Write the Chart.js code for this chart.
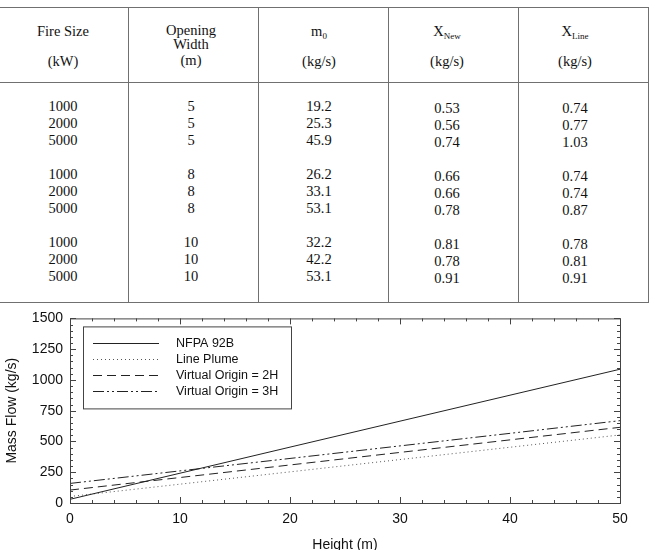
<!doctype html>
<html>
<head>
<script src="https://cdn.jsdelivr.net/npm/chart.js@4/dist/chart.umd.min.js"></script>
<style>
  body { margin: 0; width: 651px; height: 550px; overflow: hidden; background: #fff; position: relative;
         font-family: "Liberation Serif", "Times New Roman", serif; color: #111; }
  .hl { position: absolute; height: 0; border-top: 1px solid #707070; }
  .vl { position: absolute; width: 0; border-left: 1px solid #707070; }
  .cell { position: absolute; width: 130px; text-align: center; font-size: 14.5px; line-height: 16px; white-space: nowrap; }
  .col { position: absolute; width: 130px; text-align: center; font-size: 14.5px; line-height: 17px; }
  sub { font-size: 9px; vertical-align: baseline; position: relative; top: 3px; }
  #chartBox { position: absolute; left: 0; top: 303px; }
</style>
</head>
<body>
  <div id="table"></div>
  <div id="chartBox"><canvas id="canvas" width="651" height="260"></canvas></div>
  <script>
    // table data
    const fireSize = ['1000', '2000', '5000', '1000', '2000', '5000', '1000', '2000', '5000'];
    const openingWidth = ['5', '5', '5', '8', '8', '8', '10', '10', '10'];
    const m0 = ['19.2', '25.3', '45.9', '26.2', '33.1', '53.1', '32.2', '42.2', '53.1'];
    const xNew = ['0.53', '0.56', '0.74', '0.66', '0.66', '0.78', '0.81', '0.78', '0.91'];
    const xLine = ['0.74', '0.77', '1.03', '0.74', '0.74', '0.87', '0.78', '0.81', '0.91'];

    // chart data
    const heights = [0, 10, 20, 30, 40, 50];
    const nfpa92B = [30, 242, 454, 665, 876, 1087];
    const linePlume = [53, 153, 253, 353, 453, 553];
    const virtual2H = [105, 207, 309, 411, 513, 615];
    const virtual3H = [159, 261, 362, 464, 566, 669];

    const headers = [
      [['Fire Size', 31], ['(kW)', 61]],
      [['Opening', 30], ['Width', 44], ['(m)', 60]],
      [['m<sub>0</sub>', 31], ['(kg/s)', 61]],
      [['X<sub>New</sub>', 31], ['(kg/s)', 61]],
      [['X<sub>Line</sub>', 31], ['(kg/s)', 61]]
    ];
    const columns = [fireSize, openingWidth, m0, xNew, xLine];

    const table = document.getElementById('table');
    let html = '';
    html += '<div class="hl" style="left:0;top:7px;width:649px"></div>';
    html += '<div class="hl" style="left:0;top:82px;width:649px"></div>';
    html += '<div class="hl" style="left:0;top:302px;width:649px"></div>';
    [128, 258, 388, 518, 648].forEach((x) => {
      html += '<div class="vl" style="left:' + x + 'px;top:7px;height:295px"></div>';
    });
    columns.forEach((col, i) => {
      const left = 128 * i - 2;
      headers[i].forEach(([t, cy]) => {
        html += '<div class="cell" style="left:' + left + 'px;top:' + (cy - 8) + 'px">' + t + '</div>';
      });
      const lines = [];
      col.forEach((v, j) => {
        if (j > 0 && j % 3 === 0) lines.push('&nbsp;');
        lines.push(v);
      });
      const top = i >= 3 ? 99.5 : 97.5;
      html += '<div class="col" style="left:' + left + 'px;top:' + top + 'px">' + lines.join('<br>') + '</div>';
    });
    table.innerHTML = html;

    const ink = '#222';
    const pts = (ys) => heights.map((h, i) => ({ x: h, y: ys[i] }));

    const frame = {
      id: 'frame',
      afterDatasetsDraw(chart) {
        const { ctx, chartArea: a, scales: { x, y } } = chart;
        ctx.save();
        ctx.strokeStyle = '#444';
        ctx.lineWidth = 1;
        ctx.strokeRect(a.left + 0.5, a.top + 0.5, a.right - a.left, a.bottom - a.top);
        ctx.beginPath();
        for (let v = 0; v <= 50; v += 2) {
          const px = Math.round(x.getPixelForValue(v)) + 0.5;
          const len = v % 10 === 0 ? 6 : 3;
          ctx.moveTo(px, a.bottom); ctx.lineTo(px, a.bottom - len);
          ctx.moveTo(px, a.top); ctx.lineTo(px, a.top + len);
        }
        for (let v = 0; v <= 1500; v += 50) {
          const py = Math.round(y.getPixelForValue(v)) + 0.5;
          const len = v % 250 === 0 ? 6 : 3;
          ctx.moveTo(a.left, py); ctx.lineTo(a.left + len, py);
          ctx.moveTo(a.right, py); ctx.lineTo(a.right - len, py);
        }
        ctx.stroke();

        // legend inside the plot
        const bx = a.left + 13, by = a.top + 8;
        ctx.fillStyle = '#fff';
        ctx.fillRect(bx, by, 208, 82);
        ctx.strokeStyle = '#444';
        ctx.strokeRect(bx + 0.5, by + 0.5, 208, 82);
        ctx.font = '12.5px "Liberation Sans", Arial, sans-serif';
        ctx.textBaseline = 'middle';
        chart.data.datasets.forEach((ds, i) => {
          const ly = Math.round(by + 17 + i * 16) + 0.5;
          ctx.beginPath();
          ctx.setLineDash(ds.borderDash || []);
          ctx.strokeStyle = ds.borderColor;
          ctx.lineWidth = ds.borderWidth;
          ctx.moveTo(bx + 10, ly); ctx.lineTo(bx + 76, ly);
          ctx.stroke();
          ctx.setLineDash([]);
          ctx.fillStyle = '#111';
          ctx.fillText(ds.label, bx + 93, ly);
        });
        ctx.restore();
      }
    };

    const tickFont = { family: '"Liberation Sans", Arial, sans-serif', size: 14 };
    const plain = (v) => String(v);

    new Chart(document.getElementById('canvas').getContext('2d'), {
      type: 'line',
      data: {
        datasets: [
          { label: 'NFPA 92B', data: pts(nfpa92B), borderColor: ink, borderWidth: 1, borderDash: [] },
          { label: 'Line Plume', data: pts(linePlume), borderColor: '#555', borderWidth: 1, borderDash: [1, 3] },
          { label: 'Virtual Origin = 2H', data: pts(virtual2H), borderColor: ink, borderWidth: 1, borderDash: [9, 5] },
          { label: 'Virtual Origin = 3H', data: pts(virtual3H), borderColor: ink, borderWidth: 1, borderDash: [11, 3, 2, 3, 2, 3] }
        ]
      },
      options: {
        responsive: false,
        animation: false,
        elements: { point: { radius: 0 }, line: { tension: 0 } },
        layout: { padding: { top: 14, right: 31, left: 0, bottom: 0 } },
        plugins: { legend: { display: false }, tooltip: { enabled: false } },
        scales: {
          x: {
            type: 'linear', min: 0, max: 50,
            ticks: { stepSize: 10, padding: 8, color: '#111', font: tickFont, maxRotation: 0, callback: plain },
            grid: { display: false, drawTicks: false },
            border: { display: false },
            title: { display: true, text: 'Height (m)', color: '#111', font: tickFont, padding: { top: 0, bottom: 9 } },
            afterFit(s) { s.height = 60; }
          },
          y: {
            min: 0, max: 1500,
            ticks: { stepSize: 250, padding: 7, color: '#111', font: tickFont, callback: plain },
            grid: { display: false, drawTicks: false },
            border: { display: false },
            title: { display: true, text: 'Mass Flow (kg/s)', color: '#111', font: tickFont, padding: { top: 4, bottom: 0 } },
            afterFit(s) { s.width = 70; }
          }
        }
      },
      plugins: [frame]
    });
  </script>
</body>
</html>
